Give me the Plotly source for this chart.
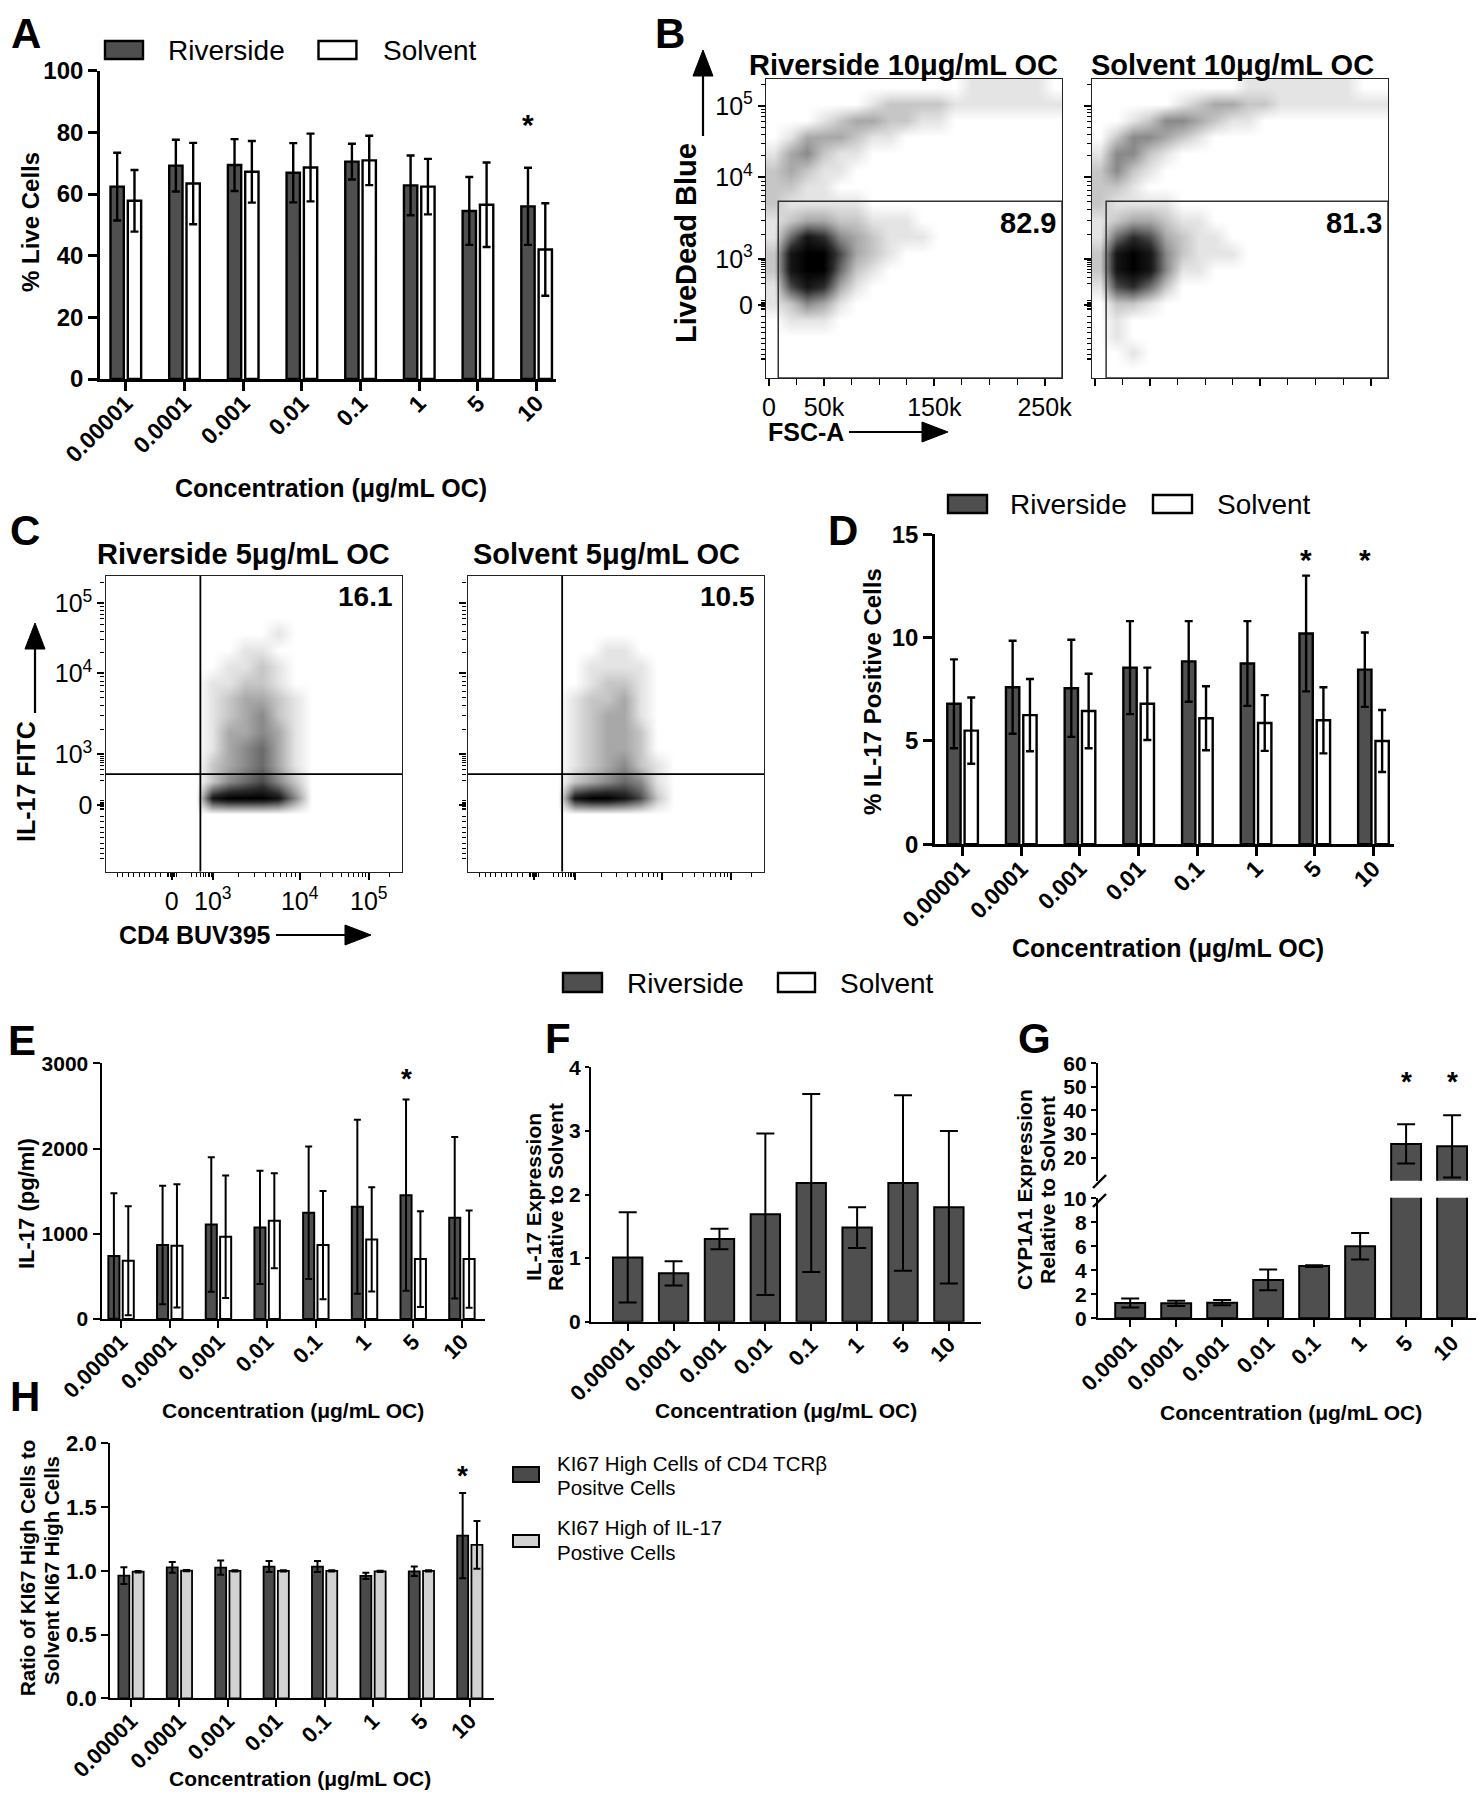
import math
import plotly.graph_objects as go

# ------------------------------------------------------------------ data
CONC = ["0.00001", "0.0001", "0.001", "0.01", "0.1", "1", "5", "10"]
CONC_G = ["0.0001", "0.0001", "0.001", "0.01", "0.1", "1", "5", "10"]

A_RIVER = [62.4, 69.2, 69.4, 66.9, 70.5, 62.8, 54.5, 56.0]
A_RIVER_SD = [11.0, 8.4, 8.4, 9.6, 5.8, 9.7, 11.0, 12.5]
A_SOLV = [57.8, 63.4, 67.2, 68.6, 70.9, 62.4, 56.5, 42.0]
A_SOLV_SD = [10.0, 13.2, 10.0, 11.0, 8.0, 9.0, 13.7, 15.0]
A_STARS = [(7, 85.0)]

D_RIVER = [6.8, 7.6, 7.55, 8.55, 8.85, 8.75, 10.2, 8.45]
D_RIVER_SD = [2.15, 2.25, 2.35, 2.25, 1.95, 2.05, 2.8, 1.8]
D_SOLV = [5.5, 6.25, 6.45, 6.8, 6.1, 5.87, 6.0, 5.0]
D_SOLV_SD = [1.6, 1.75, 1.8, 1.75, 1.55, 1.35, 1.6, 1.5]
D_STARS = [(6, 14.15), (7, 14.15)]

E_RIVER = [738, 867, 1109, 1074, 1246, 1316, 1453, 1188]
E_RIVER_SD = [736, 695, 789, 664, 777, 1021, 1123, 947]
E_SOLV = [684, 859, 965, 1152, 867, 934, 703, 703]
E_SOLV_SD = [639, 723, 719, 557, 635, 611, 562, 570]
E_STARS = [(6, 2918)]

F_RIVER = [1.01, 0.76, 1.30, 1.69, 2.18, 1.48, 2.18, 1.80]
F_RIVER_SD = [0.71, 0.19, 0.16, 1.27, 1.40, 0.32, 1.38, 1.20]

G_RIVER = [1.28, 1.25, 1.30, 3.2, 4.35, 6.0, 25.8, 24.8]
G_RIVER_SD = [0.37, 0.22, 0.22, 0.86, 0.08, 1.1, 8.3, 13.2]
G_STARS = [(6, 55.8), (7, 55.8)]

H_CD4 = [0.962, 1.027, 1.025, 1.033, 1.033, 0.960, 0.996, 1.276]
H_CD4_SD = [0.065, 0.043, 0.055, 0.043, 0.043, 0.025, 0.037, 0.335]
H_IL17 = [0.993, 1.001, 1.000, 1.000, 1.000, 0.996, 0.999, 1.203]
H_IL17_SD = [0.006, 0.005, 0.005, 0.005, 0.005, 0.005, 0.005, 0.187]
H_STARS = [(7, 1.81)]

# flow cytometry density grids (rows listed top -> bottom, 0 = empty, 9 = saturated)
B_RIVER_GRID = [
    "000000000000111110",
    "000000122221111111",
    "000123322110000000",
    "013332110000000000",
    "134211000000000000",
    "232110000000000000",
    "221100000000000000",
    "211111000000000000",
    "123322111000000000",
    "158743211100000000",
    "289963210000000000",
    "289952100000000000",
    "168731000000000000",
    "124310000000000000",
    "011100000000000000",
    "000000000000000000",
    "000000000000000000",
    "000000000000000000",
]
B_SOLV_GRID = [
    "000000000111111100",
    "000001233221111111",
    "001244321100000000",
    "024432100000000000",
    "144210000000000000",
    "242100000000000000",
    "221000000000000000",
    "211110000000000000",
    "123321100000000000",
    "157632110000000000",
    "289842111000000000",
    "289841100000000000",
    "167520000000000000",
    "022100000000000000",
    "010000000000000000",
    "010000000000000000",
    "001000000000000000",
    "000000000000000000",
]
C_RIVER_GRID = [
    "000000000000000000",
    "000000000000000000",
    "000000000000000000",
    "000000000010000000",
    "000000001100000000",
    "000000011210000000",
    "000000112210000000",
    "000000123321000000",
    "000000123421000000",
    "000000133431000000",
    "000000134531000000",
    "000000234531000000",
    "000000245642000000",
    "000000899984000000",
    "000000000000000000",
    "000000000000000000",
    "000000000000000000",
    "000000000000000000",
]
C_SOLV_GRID = [
    "000000000000000000",
    "000000000000000000",
    "000000000000000000",
    "000000000000000000",
    "000000001100000000",
    "000000011110000000",
    "000000012210000000",
    "000000122310000000",
    "000000123310000000",
    "000000123320000000",
    "000000123320000000",
    "000000123421000000",
    "000000234541000000",
    "000000899862000000",
    "000000000000000000",
    "000000000000000000",
    "000000000000000000",
    "000000000000000000",
]
B_PCT = ["82.9", "81.3"]
C_PCT = ["16.1", "10.5"]
B_GATE_LEFT = [8.5, 10.2]   # FSC-A (k)
B_GATE_TOP = 0.591          # display fraction
C_GATE_X = [0.320, 0.319]
C_GATE_Y = 0.330
FSC_RANGE = [-2.6, 265.8]

# ------------------------------------------------------------------ styling helpers
FONT = "Arial, Liberation Sans, Helvetica, sans-serif"
W, H = 1468, 1784
OX, OY = 8, 8
DARK = "#4f4f4f"
LIGHT = "#d2d2d2"


def px(x):
    return min(1.0, max(0.0, (x - OX) / W))


def py(y):
    return min(1.0, max(0.0, 1 - (y - OY) / H))


def pxa(x):
    return (x - OX) / W


def pya(y):
    return 1 - (y - OY) / H


fig = go.Figure()
layout = dict(width=W, height=H, autosize=False,
              margin=dict(l=0, r=0, t=0, b=0, pad=0, autoexpand=False),
              paper_bgcolor="white", plot_bgcolor="white", showlegend=False,
              barmode="group", bargap=0.41, bargroupgap=0.23,
              font=dict(family=FONT, color="black"))
ann = []
shapes = []


def ax_key(a):
    return ("xaxis" if a[0] == "x" else "yaxis") + a[1:]


def bar_axes(xid, yid, xl, xr, yb, yt, xrange, yrange, yvals, ytext, labels, fsx, fsy,
             lw, tl, xstand=0, ytl=None):
    layout[ax_key(xid)] = dict(
        domain=[px(xl), px(xr)], range=xrange, anchor=yid, tickmode="array", automargin=False,
        tickvals=list(range(len(labels))), ticktext=["<b>%s</b>" % t for t in labels],
        tickangle=-45, ticks="outside", ticklen=tl, tickwidth=lw, tickcolor="black",
        ticklabelstandoff=xstand,
        showline=True, linewidth=lw, linecolor="black", showgrid=False, zeroline=False,
        tickfont=dict(family=FONT, size=fsx, color="black"))
    layout[ax_key(yid)] = dict(
        domain=[py(yb), py(yt)], range=yrange, anchor=xid, tickmode="array", automargin=False,
        tickvals=yvals, ticktext=["<b>%s</b>" % t for t in ytext],
        ticks="outside", ticklen=ytl if ytl else tl, tickwidth=lw, tickcolor="black",
        showline=True, linewidth=lw, linecolor="black", showgrid=False, zeroline=False,
        tickfont=dict(family=FONT, size=fsy, color="black"))


def add_bars(xid, yid, vals, sds, color, lw, elw, ew, width=None):
    fig.add_trace(go.Bar(
        x=list(range(len(vals))), y=vals, width=width,
        error_y=dict(type="data", array=sds, visible=True, color="black",
                     thickness=elw, width=ew),
        marker=dict(color=color, line=dict(color="black", width=lw)),
        xaxis=xid, yaxis=yid, hoverinfo="skip"))


def text(x, y, s, size, bold=True, angle=0, xanchor="center", yanchor="middle"):
    ann.append(dict(x=pxa(x), y=pya(y), xref="paper", yref="paper",
                    text=("<b>%s</b>" % s) if bold else s, showarrow=False,
                    textangle=angle, xanchor=xanchor, yanchor=yanchor,
                    font=dict(family=FONT, size=size, color="black")))


def stars(xid, yid, items, off, size=30):
    for i, v in items:
        ann.append(dict(x=i - off, y=v, xref=xid, yref=yid, text="<b>*</b>",
                        showarrow=False, yshift=-8, xanchor="center", yanchor="middle",
                        font=dict(family=FONT, size=size, color="black")))


def rect(x0, y0, x1, y1, fill, lw=2.4):
    shapes.append(dict(type="rect", xref="paper", yref="paper", x0=pxa(x0), x1=pxa(x1),
                       y0=pya(y1), y1=pya(y0), fillcolor=fill,
                       line=dict(color="black", width=lw)))


def pline(x0, y0, x1, y1, lw=2.2):
    shapes.append(dict(type="line", xref="paper", yref="paper", x0=pxa(x0), x1=pxa(x1),
                       y0=pya(y0), y1=pya(y1), line=dict(color="black", width=lw)))


def arrow(x0, y0, x1, y1, head=26, half=9, lw=2.2):
    # shaft from (x0,y0) to tip (x1,y1); filled head at the tip
    L = math.hypot(x1 - x0, y1 - y0)
    ux, uy = (x1 - x0) / L, (y1 - y0) / L
    bx, by = x1 - ux * head, y1 - uy * head
    pline(x0, y0, bx + ux * 2, by + uy * 2, lw)
    nx, ny = -uy, ux
    pts = [(x1, y1), (bx + nx * half, by + ny * half), (bx - nx * half, by - ny * half)]
    path = "M " + " L ".join("%f,%f" % (pxa(a), pya(b)) for a, b in pts) + " Z"
    shapes.append(dict(type="path", xref="paper", yref="paper", path=path,
                       fillcolor="black", line=dict(color="black", width=1)))


GROUP_OFF = (1 - layout["bargap"]) / 4

# ------------------------------------------------------------------ panel A
bar_axes("x", "y", 100, 556, 379, 70.7, [-0.44, 7.33], [0, 100],
         [0, 20, 40, 60, 80, 100], ["0", "20", "40", "60", "80", "100"], CONC, 23, 24,
         2.6, 9, xstand=-10)
add_bars("x", "y", A_RIVER, A_RIVER_SD, DARK, 2.4, 2.4, 4)
add_bars("x", "y", A_SOLV, A_SOLV_SD, "white", 2.4, 2.4, 4)
stars("x", "y", A_STARS, GROUP_OFF)
rect(105, 41, 143, 59, DARK)
rect(318.5, 41, 356.4, 59, "white")
text(166, 50, "Riverside", 28, bold=False, xanchor="left")
text(380.5, 50, "Solvent", 28, bold=False, xanchor="left")
text(31, 222, "% Live Cells", 24, angle=-90)
text(331, 488, "Concentration (μg/mL OC)", 25)

# ------------------------------------------------------------------ flow helpers
FLOW_CS = [[0, "#ffffff"], [0.111, "#e4e4e4"], [0.222, "#c6c6c6"], [0.333, "#a8a8a8"],
           [0.556, "#6a6a6a"], [0.778, "#2a2a2a"], [1, "#000000"]]


def grid_z(rows):
    return [[int(ch) for ch in r] for r in reversed(rows)]


def flow_minor(p0, p3, p4, p5, lo=0.02):
    v = []
    for k in range(2, 10):
        v.append(p3 + (p4 - p3) * math.log10(k))
        v.append(p4 + (p5 - p4) * math.log10(k))
        v.append(p0 + (p3 - p0) * (0.25 + 0.75 * math.log10(k)))
    v.append(p5 + (p5 - p4) * math.log10(2))
    for d in (0.005, 0.010, 0.015, -0.005, -0.010, -0.015):
        v.append(p0 + d)
    for j in range(1, 10):
        v.append(p0 - 0.02 - j * 0.018)
    return [x for x in v if lo < x < 0.995]


def flow_axes(xid, yid, xl, xr, yb, yt, xcfg, ycfg, show_x, show_y, fs):
    base = dict(showline=True, mirror=True, linewidth=1.4, linecolor="#222",
                showgrid=False, zeroline=False, ticks="outside", ticklen=7,
                tickwidth=1.6, tickcolor="black", automargin=False,
                tickfont=dict(family=FONT, size=fs, color="black"))
    xa = dict(base, domain=[px(xl), px(xr)], anchor=yid, showticklabels=show_x, **xcfg)
    ya = dict(base, domain=[py(yb), py(yt)], anchor=xid, showticklabels=show_y, **ycfg)
    layout[ax_key(xid)] = xa
    layout[ax_key(yid)] = ya


# ------------------------------------------------------------------ panel B
BY = [0.243, 0.3975, 0.671, 0.910]
BY_TXT = ["0", "10<sup>3</sup>", "10<sup>4</sup>", "10<sup>5</sup>"]
b_ycfg = dict(range=[0, 1], tickmode="array", tickvals=BY, ticktext=BY_TXT,
              minor=dict(tickmode="array",
                         tickvals=flow_minor(0.243, 0.3975, 0.671, 0.910) + [0.065],
                         ticks="outside", ticklen=4, tickwidth=1.2, tickcolor="black"))
b_xcfg = dict(range=FSC_RANGE, tickmode="array", tickvals=[0, 50, 150, 250],
              ticktext=["0", "50k", "150k", "250k"],
              minor=dict(tickmode="array", tickvals=[25, 75, 100, 125, 175, 200, 225],
                         ticks="outside", ticklen=6, tickwidth=1.4, tickcolor="black"))
flow_axes("x2", "y2", 766, 1062, 378, 79, b_xcfg, b_ycfg, True, True, 25)
flow_axes("x3", "y3", 1092, 1388, 378, 79, b_xcfg, b_ycfg, False, False, 25)
dxB = (FSC_RANGE[1] - FSC_RANGE[0]) / 18
for (xid, yid), grid, gl, pct in zip([("x2", "y2"), ("x3", "y3")],
                                    [B_RIVER_GRID, B_SOLV_GRID], B_GATE_LEFT, B_PCT):
    fig.add_trace(go.Heatmap(z=grid_z(grid), x0=FSC_RANGE[0] + dxB / 2, dx=dxB,
                             y0=1 / 36, dy=1 / 18, colorscale=FLOW_CS, zmin=0, zmax=9,
                             zsmooth="best", showscale=False, hoverinfo="skip",
                             xaxis=xid, yaxis=yid))
    shapes.append(dict(type="rect", xref=xid, yref=yid, x0=gl, x1=FSC_RANGE[1], y0=0,
                       y1=B_GATE_TOP, line=dict(color="#333", width=1.5)))
    ann.append(dict(x=0.985, y=0.52, xref=xid + " domain", yref=yid + " domain",
                    text="<b>%s</b>" % pct, showarrow=False, xanchor="right",
                    yanchor="middle", font=dict(family=FONT, size=29, color="black")))
text(903, 65, "Riverside 10μg/mL OC", 29)
text(1232, 65, "Solvent 10μg/mL OC", 29)
text(686, 243, "LiveDead Blue", 29, angle=-90)
arrow(703, 136, 703, 50, head=26, half=10)
text(766, 432, "FSC-A", 25, xanchor="left")
arrow(849, 432, 948, 432, head=26, half=10)

# ------------------------------------------------------------------ panel C
CX = [0.223, 0.362, 0.655, 0.888]
CY = [0.225, 0.397, 0.671, 0.9075]
C_TXT = ["0", "10<sup>3</sup>", "10<sup>4</sup>", "10<sup>5</sup>"]
c_xcfg = dict(range=[0, 1], tickmode="array", tickvals=CX, ticktext=C_TXT,
              minor=dict(tickmode="array", tickvals=flow_minor(*CX),
                         ticks="outside", ticklen=4, tickwidth=1.2, tickcolor="black"))
c_ycfg = dict(range=[0, 1], tickmode="array", tickvals=CY, ticktext=C_TXT,
              minor=dict(tickmode="array", tickvals=flow_minor(*CY),
                         ticks="outside", ticklen=4, tickwidth=1.2, tickcolor="black"))
flow_axes("x4", "y4", 105.5, 402, 871.7, 576, c_xcfg, c_ycfg, True, True, 25)
flow_axes("x5", "y5", 467.6, 764, 871.7, 576, c_xcfg, c_ycfg, False, False, 25)
for (xid, yid), grid, gx, pct in zip([("x4", "y4"), ("x5", "y5")],
                                    [C_RIVER_GRID, C_SOLV_GRID], C_GATE_X, C_PCT):
    fig.add_trace(go.Heatmap(z=grid_z(grid), x0=1 / 36, dx=1 / 18, y0=1 / 36, dy=1 / 18,
                             colorscale=FLOW_CS, zmin=0, zmax=9, zsmooth="best",
                             showscale=False, hoverinfo="skip", xaxis=xid, yaxis=yid))
    shapes.append(dict(type="line", xref=xid, yref=yid, x0=gx, x1=gx, y0=0, y1=1,
                       line=dict(color="black", width=1.8)))
    shapes.append(dict(type="line", xref=xid, yref=yid, x0=0, x1=1, y0=C_GATE_Y,
                       y1=C_GATE_Y, line=dict(color="black", width=1.8)))
    ann.append(dict(x=0.978, y=0.932, xref=xid + " domain", yref=yid + " domain",
                    text="<b>%s</b>" % pct, showarrow=False, xanchor="right",
                    yanchor="middle", font=dict(family=FONT, size=28, color="black")))
text(244, 554, "Riverside 5μg/mL OC", 29)
text(606, 554, "Solvent 5μg/mL OC", 29)
text(26, 782, "IL-17 FITC", 25, angle=-90)
arrow(35, 713, 35, 623, head=26, half=10)
text(117, 935, "CD4 BUV395", 25, xanchor="left")
arrow(276, 935, 371, 935, head=26, half=10)

# ------------------------------------------------------------------ panel D
bar_axes("x6", "y6", 935, 1394, 844.3, 534.3, [-0.47, 7.35], [0, 15],
         [0, 5, 10, 15], ["0", "5", "10", "15"], CONC, 23, 24, 2.6, 9, xstand=-10)
add_bars("x6", "y6", D_RIVER, D_RIVER_SD, DARK, 2.4, 2.4, 4)
add_bars("x6", "y6", D_SOLV, D_SOLV_SD, "white", 2.4, 2.4, 4)
stars("x6", "y6", D_STARS, GROUP_OFF)
rect(948, 495, 987, 513, DARK)
rect(1153, 495, 1192, 513, "white")
text(1008, 504, "Riverside", 28, bold=False, xanchor="left")
text(1215, 504, "Solvent", 28, bold=False, xanchor="left")
text(872, 692, "% IL-17 Positive Cells", 24, angle=-90)
text(1168, 948, "Concentration (μg/mL OC)", 25)

# ------------------------------------------------------------------ panel E
bar_axes("x7", "y7", 101.6, 484.8, 1319, 1063.3, [-0.40, 7.47], [0, 3000],
         [0, 1000, 2000, 3000], ["0", "1000", "2000", "3000"], CONC, 22, 21, 2.2, 7,
         xstand=-8)
add_bars("x7", "y7", E_RIVER, E_RIVER_SD, DARK, 2.0, 2.0, 3.5)
add_bars("x7", "y7", E_SOLV, E_SOLV_SD, "white", 2.0, 2.0, 3.5)
stars("x7", "y7", E_STARS, GROUP_OFF, 28)
text(26, 1204, "IL-17 (pg/ml)", 22, angle=-90)
text(293, 1410, "Concentration (μg/mL OC)", 21)

# ------------------------------------------------------------------ legend E/F
rect(563, 973, 602, 992, DARK)
rect(778, 973, 815, 992, "white")
text(625, 983, "Riverside", 28, bold=False, xanchor="left")
text(838, 983, "Solvent", 28, bold=False, xanchor="left")

# ------------------------------------------------------------------ panel F
bar_axes("x8", "y8", 591, 981, 1321.7, 1067.3, [-0.8, 7.7], [0, 4],
         [0, 1, 2, 3, 4], ["0", "1", "2", "3", "4"], CONC, 22, 21, 2.2, 7,
         xstand=-8, ytl=4)
add_bars("x8", "y8", F_RIVER, F_RIVER_SD, DARK, 2.0, 2.0, 9, width=0.64)
text(533, 1197, "IL-17 Expression", 21, angle=-90)
text(555, 1197, "Relative to Solvent", 21, angle=-90)
text(786, 1410, "Concentration (μg/mL OC)", 21)

# ------------------------------------------------------------------ panel G (broken axis)
bar_axes("x9", "y9", 1098, 1476, 1318.3, 1197.7, [-0.7, 7.52], [0, 10.05],
         [0, 2, 4, 6, 8, 10], ["0", "2", "4", "6", "8", "10"], CONC_G, 22, 21, 2.2, 7,
         xstand=-6, ytl=5)
layout["yaxis10"] = dict(layout["yaxis9"], domain=[py(1180.7), py(1063.3)], range=[10.2, 60],
                         tickvals=[20, 30, 40, 50, 60],
                         ticktext=["<b>%d</b>" % v for v in [20, 30, 40, 50, 60]])
add_bars("x9", "y9", G_RIVER, G_RIVER_SD, DARK, 2.0, 2.0, 9, width=0.65)
add_bars("x9", "y10", G_RIVER, G_RIVER_SD, DARK, 2.0, 2.0, 9, width=0.65)
stars("x9", "y10", G_STARS, 0, 28)
pline(1093, 1188, 1106, 1175, 2.4)
pline(1093, 1207, 1106, 1194, 2.4)
text(1024, 1190, "CYP1A1 Expression", 21, angle=-90)
text(1047, 1190, "Relative to Solvent", 21, angle=-90)
text(1291, 1412, "Concentration (μg/mL OC)", 21)

# ------------------------------------------------------------------ panel H
bar_axes("x11", "y11", 110.2, 494, 1698.3, 1443.3, [-0.43, 7.5], [0, 2],
         [0, 0.5, 1.0, 1.5, 2.0], ["0.0", "0.5", "1.0", "1.5", "2.0"], CONC, 22, 22,
         2.2, 7, xstand=-8)
add_bars("x11", "y11", H_CD4, H_CD4_SD, "#4a4a4a", 1.8, 2.0, 3.5)
add_bars("x11", "y11", H_IL17, H_IL17_SD, LIGHT, 1.8, 2.0, 3.5)
stars("x11", "y11", H_STARS, GROUP_OFF, 28)
text(27, 1568, "Ratio of KI67 High Cells to", 20.5, angle=-90)
text(51, 1571, "Solvent KI67 High Cells", 20.5, angle=-90)
text(300, 1778, "Concentration (μg/mL OC)", 21)
rect(513, 1467, 539, 1482, "#4a4a4a", 2.0)
rect(513, 1535, 539, 1547, LIGHT, 2.0)
text(555, 1463, "KI67 High Cells of CD4 TCRβ", 20.5, bold=False, xanchor="left")
text(555, 1487, "Positve Cells", 20.5, bold=False, xanchor="left")
text(555, 1527, "KI67 High of IL-17", 20.5, bold=False, xanchor="left")
text(555, 1552, "Postive Cells", 20.5, bold=False, xanchor="left")

# ------------------------------------------------------------------ panel letters
text(26, 8, "A", 42, yanchor="top")
text(670, 8, "B", 42, yanchor="top")
for letter, (lx, ly) in {"C": (25, 530), "D": (843, 530), "E": (22, 1040),
                         "F": (558, 1038), "G": (1034, 1038), "H": (25, 1396)}.items():
    text(lx, ly, letter, 42)

layout["annotations"] = ann
layout["shapes"] = shapes
fig.update_layout(**layout)
fig.write_html("out.html")
